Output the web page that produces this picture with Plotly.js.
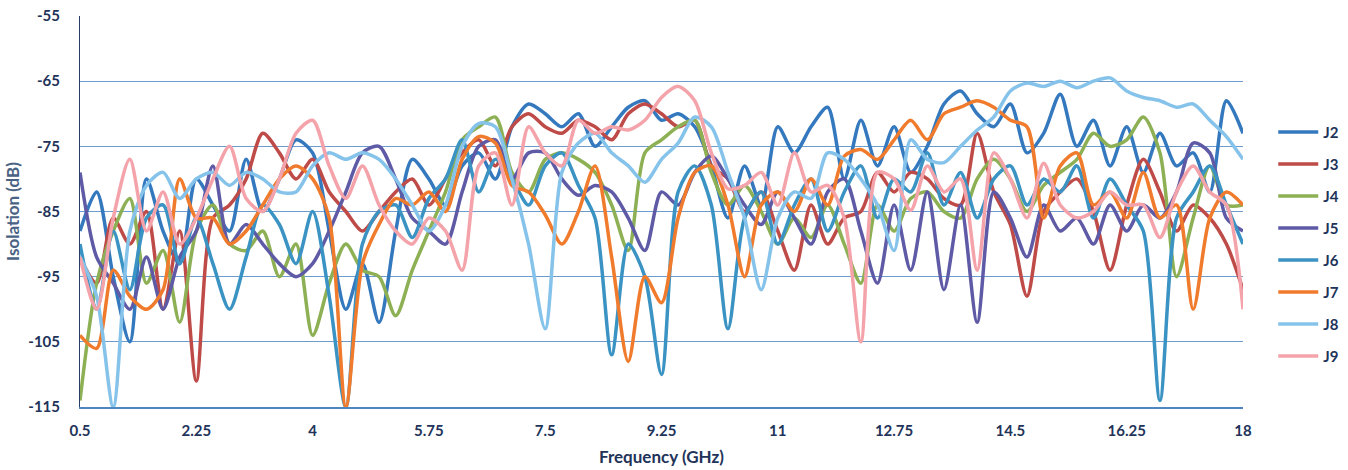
<!DOCTYPE html>
<html>
<head>
<meta charset="utf-8">
<script src="https://cdn.plot.ly/plotly-3.0.1.min.js"></script>
<style>html,body{margin:0;padding:0;background:#fff;}#chart{width:1348px;height:470px;}</style>
</head>
<body>
<div id="chart"></div>
<script>
// Frequency grid (GHz), 0.5 to 18 in 0.25 steps
const freq = [];
for (let k = 0; k <= 70; k++) freq.push(0.5 + k * 0.25);

const seriesNames = ["J2","J3","J4","J5","J6","J7","J8","J9"];
const xTicks = [0.5, 2.25, 4, 5.75, 7.5, 9.25, 11, 12.75, 14.5, 16.25, 18];
const yTicks = [-55, -65, -75, -85, -95, -105, -115];

const J2 = [-88,-82,-95,-105,-80,-88,-93,-80,-84,-88,-77,-85,-80,-74,-76,-88,-100,-93,-102,-88,
  -77,-80,-84,-78,-76,-80,-72,-68.5,-70,-72,-70,-75,-72,-69,-68,-71,-70,-72,-78,-86,
  -78,-84,-72,-76,-72,-69,-80,-71,-78,-72,-79,-75,-68.5,-66.5,-70,-72,-68.5,-76,-73,-67,
  -75,-71,-78,-72,-79,-73,-78,-76,-82,-68,-73];
const J3 = [-92,-96,-86,-90,-85,-100,-88,-111,-86,-84,-80,-73,-76,-80,-77,-82,-85,-88,-85,-82,
  -80,-84,-80,-76,-74,-78,-72,-70,-72,-73,-71,-72,-74,-70,-68.5,-70,-72,-71,-78,-80,
  -85,-82,-88,-94,-84,-90,-86,-85,-79,-82,-79,-80,-83,-84,-73,-82,-87,-98,-85,-82,
  -80,-85,-94,-84,-77,-82,-88,-84,-86,-90,-97];
const J4 = [-114,-96,-88,-83,-96,-91,-102,-88,-84,-90,-91,-88,-95,-90,-104,-96,-90,-94,-95,-101,
  -94,-88,-82,-74,-72,-70.5,-79,-82,-77,-76,-77,-79,-84,-91,-76,-74,-72,-71,-79,-84,
  -81,-85,-90,-86,-89,-84,-90,-96,-84,-88,-83,-82,-85,-86,-80,-77,-80,-85,-81,-79,
  -77,-73,-75,-74,-70.5,-76,-95,-86,-78,-84,-84];
const J5 = [-79,-92,-96,-100,-92,-100,-92,-88,-78,-90,-87,-90,-93,-95,-93,-88,-82,-76,-75,-80,
  -86,-88,-90,-82,-75,-74,-80,-76,-76,-80,-82.5,-81,-82,-86,-91,-82,-84,-79,-76.5,-80,
  -84,-87,-82,-86,-90,-82,-80,-88,-96,-84,-94,-82,-97,-84,-102,-82,-86,-92,-84,-88,
  -86,-90,-84,-88,-84,-86,-82,-74.5,-76,-86,-88];
const J6 = [-90,-100,-88,-97,-86,-84,-93,-86,-93,-100,-92,-84,-87,-93,-85,-98,-115,-90,-85,-84,
  -89,-83,-80,-74,-82,-77,-80,-84,-78,-76,-81,-86,-107,-90,-95,-110,-82,-78,-84,-103,
  -86,-82,-90,-84,-80,-88,-82,-78,-86,-80,-82,-76,-84,-79,-86,-80,-78,-84,-80,-82,
  -78,-86,-80,-84,-88,-114,-86,-82,-78,-84,-90];
const J7 = [-104,-106,-94,-98,-100,-97,-80,-86,-86,-90,-88,-84,-80,-78,-80,-86,-115,-93,-87,-83,
  -84,-82,-85,-77,-73.5,-74.5,-81,-82,-85.5,-90,-85,-78,-92,-108,-95,-99,-86,-79,-78,-84,
  -95,-84,-82,-85,-80,-84,-76.5,-75.5,-77,-74,-71,-74,-70,-69,-68,-69,-71,-72,-86,-78,
  -76,-84,-82,-86,-79,-86,-84,-100,-86,-82,-84];
const J8 = [-92,-98,-115,-88,-81,-79,-83,-80,-79,-81,-79,-80,-82,-82,-78,-76,-77,-76,-77,-80,
  -84,-88,-84,-75,-71.5,-72,-80,-90,-103,-79,-74.5,-73,-76,-78,-80.5,-77,-74.5,-70.5,-72,-79,
  -86,-97,-86,-82,-83,-76,-77,-80,-84,-91,-74,-77,-77.5,-75,-72.5,-70.5,-66.5,-65.3,-65.8,-65,
  -66,-65,-64.5,-66.5,-67.5,-68,-69,-68.5,-71,-73.5,-77];
const J9 = [-92,-100,-86,-77,-88,-82,-90,-86,-80,-75,-83,-85,-80,-73,-71,-78,-83,-78,-84,-88,
  -90,-86,-88,-94,-78,-76,-84,-72,-76,-78,-71,-73,-72,-72.5,-71,-67.5,-65.8,-68,-76,-81.5,
  -81,-79,-84,-76,-82,-81,-86,-105,-79,-80,-84.8,-78,-82,-80,-94,-76,-80,-86,-77.6,-84,
  -86,-85,-82,-84,-84,-89,-82,-78,-82,-84,-100];

const seriesValues = [J2, J3, J4, J5, J6, J7, J8, J9];
const seriesColors = ["#3478BE","#BE4B48","#8DB055","#5E5AA6","#3A93C3","#F07B2D","#86C3EA","#F4A3AA"];

const textColor = "#22335A";
const fontFamily = "Lato, 'Open Sans', sans-serif";

const traces = seriesNames.map((name, i) => ({
  x: freq,
  y: seriesValues[i],
  name: name,
  type: "scatter",
  mode: "lines",
  legendgroup: name,
  line: {color: seriesColors[i], width: 3.5, shape: "spline", smoothing: 0.8}
}));

const layout = {
  width: 1348,
  height: 470,
  margin: {l: 80, r: 105, t: 16, b: 63, autoexpand: false},
  paper_bgcolor: "#ffffff",
  plot_bgcolor: "#ffffff",
  showlegend: true,
  legend: {
    x: 1.026, y: 0.745, xanchor: "left", yanchor: "top",
    traceorder: "grouped",
    tracegroupgap: 9.5,
    font: {family: fontFamily, size: 15, color: textColor, weight: "bold"},
    itemwidth: 40
  },
  xaxis: {
    range: [0.5, 18],
    tickvals: xTicks,
    ticktext: xTicks.map(String),
    showgrid: false,
    zeroline: false,
    showline: true,
    linecolor: "#4F86C0",
    linewidth: 1.5,
    ticks: "",
    ticklabelstandoff: 9,
    tickfont: {family: fontFamily, size: 15, color: textColor, weight: "bold"},
    title: {text: "Frequency (GHz)", font: {family: fontFamily, size: 17, color: textColor, weight: "bold"}, standoff: 13}
  },
  yaxis: {
    range: [-115, -55],
    tickvals: yTicks,
    ticktext: yTicks.map(String),
    showgrid: true,
    gridcolor: "#6C9BCD",
    gridwidth: 1,
    zeroline: false,
    showline: true,
    linecolor: "#2A3F66",
    linewidth: 1,
    ticks: "",
    ticklabelstandoff: 16,
    tickfont: {family: fontFamily, size: 15, color: textColor, weight: "bold"},
    title: {text: "Isolation (dB)", font: {family: fontFamily, size: 17, color: "#4A6283", weight: "bold"}, standoff: 4}
  }
};

Plotly.newPlot("chart", traces, layout, {displayModeBar: false, staticPlot: true});
</script>
</body>
</html>
